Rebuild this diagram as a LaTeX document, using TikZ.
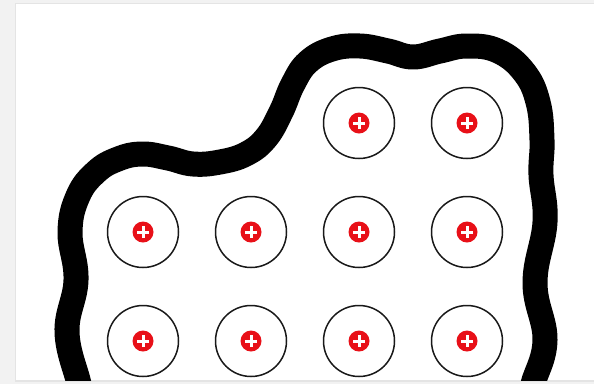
\documentclass[tikz,border=0pt]{standalone}
\definecolor{bggray}{RGB}{242,242,242}
\definecolor{shadowgray}{RGB}{228,228,228}
\definecolor{plusred}{RGB}{232,16,24}
\begin{document}
\begin{tikzpicture}[x=1pt,y=-1pt,
  cell/.style={circle, draw=black!90, line width=1.5pt, minimum size=71pt, inner sep=0pt},
  charge/.style={circle, fill=plusred, minimum size=21pt, inner sep=0pt,
    path picture={
      \draw[white, line width=3pt]
        ([xshift=-6pt]path picture bounding box.center) -- ([xshift=6pt]path picture bounding box.center)
        ([yshift=-6pt]path picture bounding box.center) -- ([yshift=6pt]path picture bounding box.center);
    }},
  band/.style={line width=25pt, black, line join=round}
]
\useasboundingbox (0,0) rectangle (594,384);
\fill[bggray] (0,0) rectangle (594,384);
\fill[shadowgray] (14.5,2.5) rectangle (594,381.5);
\fill[white] (16,4) rectangle (594,380);
\begin{scope}
  \clip (16,4) rectangle (594,380);
  \draw[band] plot[smooth, tension=0.7] coordinates {
    (81,400) (79,384) (67,332) (76,280) (70,232) (78,196) (96,172) (118,159)
    (142,154) (168,158) (193,164) (220,162) (246,154) (266,138) (281,112)
    (293,84) (308,62) (332,49) (360,46) (388,51) (413,57) (440,51) (467,46)
    (498,51) (524,72) (538,102) (542,140) (541,175) (545,222) (535,283)
    (545,340) (533,384) (531,400)};
\end{scope}
% top row
\node[cell] (c13) at (359,123) {};
\node[cell] (c14) at (467,123) {};
% middle row
\node[cell] (c21) at (143,232) {};
\node[cell] (c22) at (251,232) {};
\node[cell] (c23) at (359,232) {};
\node[cell] (c24) at (467,232) {};
% bottom row
\node[cell] (c31) at (143,341) {};
\node[cell] (c32) at (251,341) {};
\node[cell] (c33) at (359,341) {};
\node[cell] (c34) at (467,341) {};
\foreach \n in {c13,c14,c21,c22,c23,c24,c31,c32,c33,c34}
  \node[charge] (p\n) at (\n.center) {};
\end{tikzpicture}
\end{document}
